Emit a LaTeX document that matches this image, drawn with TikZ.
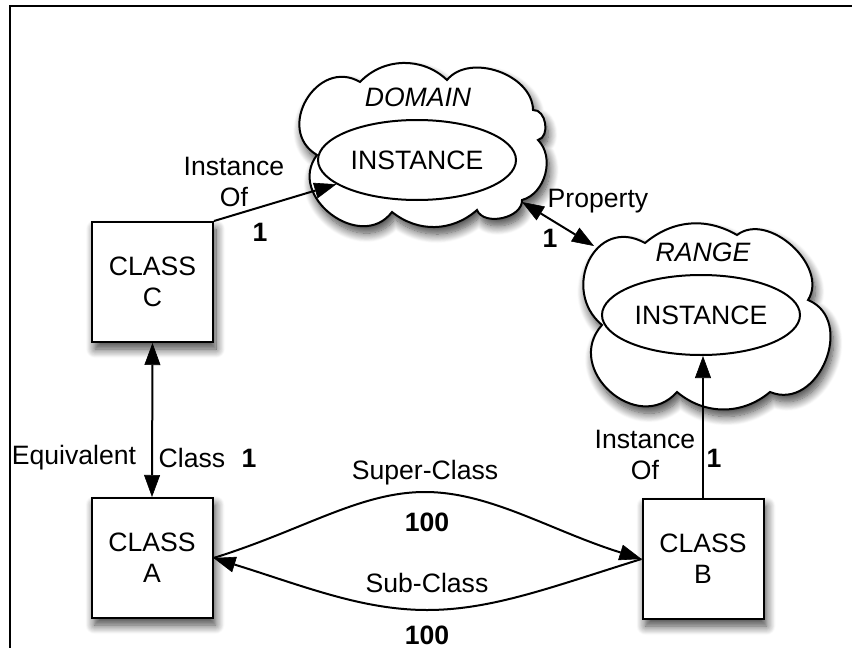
\documentclass[tikz,border=0pt]{standalone}
\usepackage{fontspec}
\setmainfont{Liberation Sans}
\usetikzlibrary{shapes.geometric,shadows.blur,arrows.meta}

\begin{document}
\begin{tikzpicture}[x=0.5pt,y=-0.5pt,
  every node/.style={font=\fontsize{13.3}{15.5}\selectfont},
  shadowed/.style={blur shadow={shadow xshift=1.5pt,shadow yshift=-3.5pt,shadow blur radius=4.5pt,shadow blur steps=12,shadow opacity=75}},
  classbox/.style={draw,line width=1pt,fill=white,minimum width=60.5pt,minimum height=60pt,align=center,inner sep=0pt,shadowed},
  puffline/.style={draw,line width=1pt,fill=white,line join=miter,shadowed},
  inst/.style={ellipse,draw,line width=1pt,fill=white,minimum width=99pt,minimum height=40pt,inner sep=0pt},
  conn/.style={line width=1pt,draw=black},
  onehead/.style={-{Triangle[length=11pt,width=8pt,fill=black,line width=0.3pt]}},
  twohead/.style={{Triangle[length=11pt,width=8pt,fill=black,line width=0.3pt]}-{Triangle[length=11pt,width=8pt,fill=black,line width=0.3pt]}},
  lbl/.style={align=center,inner sep=0pt},
  num/.style={inner sep=0pt,font=\fontsize{13.3}{15.5}\selectfont\bfseries}
]
\useasboundingbox (0,0) rectangle (852,648);

% frame
\draw[line width=1pt] (852,6) -- (9.5,6) -- (9.5,648);

% domain cloud
\path[puffline] (360,82)
  to[bend left=45] (447,80)
  to[bend left=70] (533,110)
  to[bend left=85,looseness=1.1] (538,140)
  to[bend left=60] (522,200)
  to[bend left=80] (477,210)
  to[bend left=40] (392,212)
  to[bend left=90,looseness=1.4] (317,155)
  to[bend left=90,looseness=1.5] (360,82) -- cycle;

% range cloud
\path[puffline] (645,243)
  to[bend left=35] (737,235)
  to[bend left=80,looseness=1.05] (808,300)
  to[bend left=90,looseness=1.35] (770,392)
  to[bend left=40] (677,392)
  to[bend left=90,looseness=1.5] (602,325)
  .. controls (560,290) and (595,215) .. (645,243) -- cycle;

\node[font=\fontsize{13.3}{15.5}\selectfont\itshape] (dname) at (418,97) {DOMAIN};
\node[font=\fontsize{13.3}{15.5}\selectfont\itshape] (rname) at (703,252) {RANGE};
\node[inst] (dinst) at (417,160) {INSTANCE};
\node[inst] (rinst) at (701,315) {INSTANCE};
\coordinate (dprop) at (522,202);
\coordinate (rprop) at (594,246);

% classes
\node[classbox] (C) at (152.5,282) {CLASS\\C};
\node[classbox] (A) at (152,558) {CLASS\\A};
\node[classbox] (B) at (703,559) {CLASS\\B};

% connectors
\draw[conn,onehead] (C.north east) -- (dinst);
\draw[conn,twohead] (dprop) -- (rprop);
\draw[conn,twohead] (C.south) -- (A.north);
\draw[conn,onehead] (B.north) -- (B.north |- rinst.south);

\coordinate (supmid) at (425,492);
\coordinate (submid) at (427,610);
\draw[conn,onehead] (A.east) .. controls +(90,-28) and +(-65,0) .. (supmid)
  .. controls +(65,0) and +(-90,-28) .. (B.west);
\draw[conn,onehead] (B.west) .. controls +(-90,28) and +(65,0) .. (submid)
  .. controls +(-65,0) and +(90,28) .. (A.east);

% labels
\node[lbl] (l1) at (234,182) {Instance\\Of};
\node[num] (n1) at (260,232) {1};
\node[lbl] (l2) at (598,201) {Property};
\node[num] (n2) at (550,238) {1};
\node[lbl] (l3) at (74,458) {Equivalent};
\node[lbl] (l4) at (192,458) {Class};
\node[num] (n3) at (249,458) {1};
\node[lbl] (l5) at (645,455) {Instance\\Of};
\node[num] (n4) at (714,458) {1};
\node[lbl] (l6) at (425,473) {Super-Class};
\node[num] (n5) at (427,522) {100};
\node[lbl] (l7) at (427,583) {Sub-Class};
\node[num] (n6) at (427,635) {100};
\end{tikzpicture}
\end{document}
